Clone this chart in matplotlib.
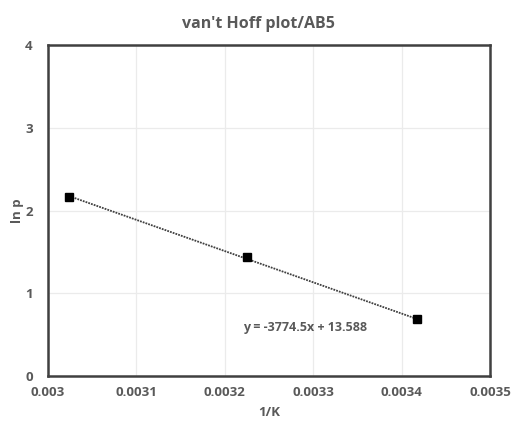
import numpy as np
import matplotlib.pyplot as plt

plt.rcParams['font.family'] = ['Open Sans', 'DejaVu Sans']

# data
InvT = [0.003024, 0.003225, 0.003417]
LnP = [2.163, 1.438, 0.689]
Slope = -3774.5
Intercept = 13.588
EqText = "y = -3774.5x + 13.588"

TextColor = "#595959"

fig = plt.figure(figsize=(5.16, 4.37), dpi=100)
ax = fig.add_axes([48/516, 1-376/437, (490-48)/516, (376-45)/437])

# dotted linear trendline across the data range
xt = np.array([min(InvT), max(InvT)])
ax.plot(xt, Slope*xt + Intercept, linestyle=(0, (1, 0.6)), color="#404040", linewidth=1.3, zorder=2)
ax.plot(InvT, LnP, linestyle='none', marker='s', markersize=6, color="black", zorder=3)

ax.set_xlim(0.003, 0.0035)
ax.set_ylim(0, 4)
ax.set_xticks(np.arange(0.003, 0.00351, 0.0001))
ax.set_xticklabels(["0.003", "0.0031", "0.0032", "0.0033", "0.0034", "0.0035"])
ax.set_yticks([0, 1, 2, 3, 4])
ax.grid(True, color="#ebebeb", linewidth=0.9, zorder=0)
ax.set_axisbelow(True)
ax.tick_params(length=0, labelsize=9.5, labelcolor=TextColor)
ax.tick_params(axis='x', pad=7)
ax.tick_params(axis='y', pad=11)
for lbl in ax.get_xticklabels() + ax.get_yticklabels():
    lbl.set_fontweight('bold')
for s in ax.spines.values():
    s.set_color("#404040")
    s.set_linewidth(1.8)

ax.set_xlabel("1/K", fontsize=9.5, color=TextColor, fontweight='bold', labelpad=5)
ax.set_ylabel("ln p", fontsize=9.5, color=TextColor, fontweight='bold', labelpad=1)
ax.set_title("van't Hoff plot/AB5", fontsize=11.5, color=TextColor, fontweight='bold', pad=12, x=0.475)
ax.text(0.003291, 0.59, EqText, fontsize=9, color=TextColor, fontweight='bold', ha='center', va='center')

plt.savefig("out.png", dpi=100)
